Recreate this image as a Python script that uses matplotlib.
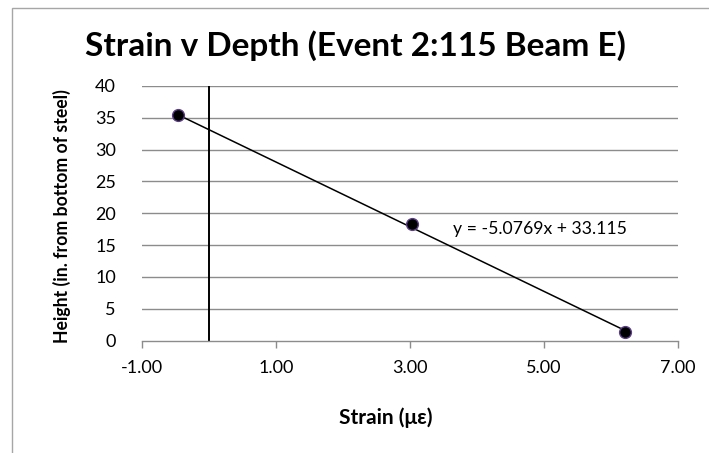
import matplotlib
matplotlib.use("Agg")
import matplotlib.pyplot as plt
import numpy as np
from matplotlib.patches import Rectangle

# Data
strain = [-0.47, 3.03, 6.22]
height = [35.45, 18.35, 1.4]
slope = -5.0769
intercept = 33.115
eq_label = "y = -5.0769x + 33.115"
title = "Strain v Depth (Event 2:115 Beam E)"
xlabel = "Strain (με)"
ylabel = "Height (in. from bottom of steel)"
xticks = [-1, 1, 3, 5, 7]
yticks = [0, 5, 10, 15, 20, 25, 30, 35, 40]

plt.rcParams['font.family'] = ['Lato', 'DejaVu Sans']

W, H = 709, 453
fig = plt.figure(figsize=(W / 100, H / 100), dpi=100)
fig.patch.set_facecolor('white')

# chart border (extends beyond right/bottom edges)
fig.patches.append(Rectangle((12 / W, -0.1), 1.2, 1 - 8 / H + 0.1, transform=fig.transFigure,
                             fill=False, edgecolor='#a6a6a6', linewidth=1.0))

left, right = 142.3 / W, 677.7 / W
top, bottom = 1 - 86 / H, 1 - 340.5 / H
ax = fig.add_axes([left, bottom, right - left, top - bottom])

ax.set_xlim(-1, 7)
ax.set_ylim(0, 40)
ax.set_xticks(xticks)
ax.set_xticklabels([f"{v:.2f}" for v in xticks])
ax.set_yticks(yticks)

for y in yticks[1:]:
    ax.axhline(y, color='#8c8c8c', linewidth=1.0, zorder=1)

ax.axvline(0, color='black', linewidth=1.4, zorder=2)

for s in ['top', 'right', 'left']:
    ax.spines[s].set_visible(False)
ax.spines['bottom'].set_color('#8c8c8c')
ax.spines['bottom'].set_linewidth(1.0)

ax.tick_params(axis='x', direction='out', length=5, width=1.0, color='#8c8c8c',
               labelsize=13, pad=9)
ax.tick_params(axis='y', length=0, labelsize=13, pad=19)

xs = np.array([min(strain), max(strain)])
ax.plot(xs, slope * xs + intercept, color='black', linewidth=1.1, zorder=3)
ax.plot(strain, height, 'o', markersize=8.5, markerfacecolor='black',
        markeredgecolor='#5b3f86', markeredgewidth=1.0, zorder=4, clip_on=False)

ax.text(452.7 / W, 1 - 229.3 / H, eq_label, transform=fig.transFigure,
        fontsize=12.7, va='center', ha='left')

fig.text(355 / W, 1 - 46 / H, title, fontsize=24, fontweight='bold', ha='center', va='center')
fig.text(386 / W, 1 - 418 / H, xlabel, fontsize=15, fontweight='bold', ha='center', va='center')
fig.text(61.7 / W, 1 - 216 / H, ylabel, fontsize=12.7, fontweight='bold', ha='center', va='center',
         rotation=90)

fig.savefig("out.png", dpi=100)
